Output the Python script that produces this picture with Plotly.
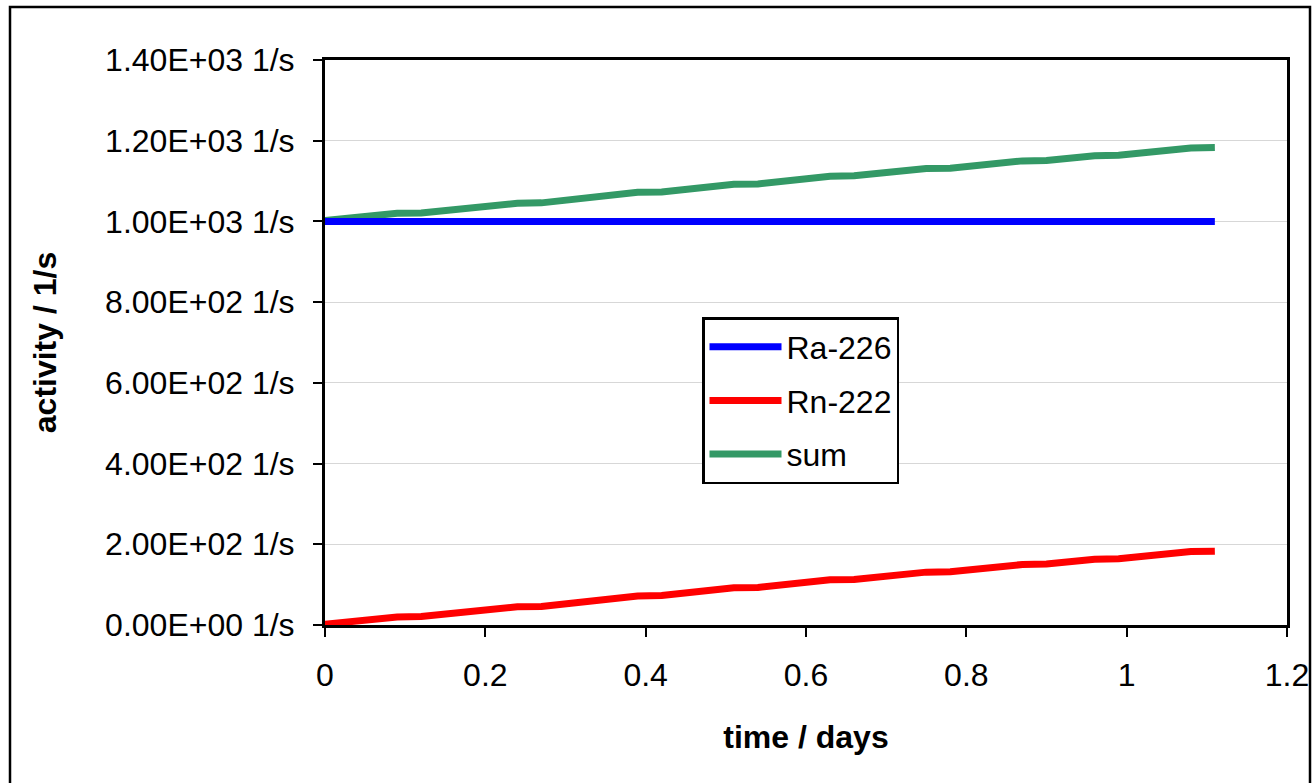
import plotly.graph_objects as go

# time in days
time_days = [0, 0.09, 0.12, 0.24, 0.27, 0.39, 0.42, 0.51, 0.54, 0.63, 0.66,
             0.75, 0.78, 0.87, 0.90, 0.96, 0.99, 1.08, 1.11]
ra_226 = [1000] * len(time_days)
rn_222 = [2, 20, 21, 45, 46, 72, 73, 92, 93, 112, 113, 131, 132, 150, 151,
          163, 164, 182, 183]
total = [1002, 1020, 1021, 1045, 1046, 1072, 1073, 1092, 1093, 1112, 1113,
         1131, 1132, 1150, 1151, 1163, 1164, 1182, 1183]

y_tickvals = [0, 200, 400, 600, 800, 1000, 1200, 1400]
y_ticktext = ['0.00E+00 1/s', '2.00E+02 1/s', '4.00E+02 1/s', '6.00E+02 1/s',
              '8.00E+02 1/s', '1.00E+03 1/s', '1.20E+03 1/s', '1.40E+03 1/s']
x_tickvals = [0, 0.2, 0.4, 0.6, 0.8, 1.0, 1.2]
x_ticktext = ['0', '0.2', '0.4', '0.6', '0.8', '1', '1.2']

FONT = 'Liberation Sans, Arial, sans-serif'
FS = 32
LINE_W = 7

# plot area in pixels (left, right, top, bottom)
PL, PR, PT, PB = 325, 1287, 60, 625
W, H = 1314, 783

fig = go.Figure()

# sum drawn first so Ra-226 sits on top of it at t=0
fig.add_trace(go.Scatter(x=time_days, y=total, name='sum', mode='lines',
                         line=dict(color='rgb(51,153,102)', width=LINE_W),
                         legendrank=3, legendgroup='c'))
fig.add_trace(go.Scatter(x=time_days, y=ra_226, name='Ra-226', mode='lines',
                         line=dict(color='rgb(0,0,255)', width=LINE_W),
                         legendrank=1, legendgroup='a'))
fig.add_trace(go.Scatter(x=time_days, y=rn_222, name='Rn-222', mode='lines',
                         line=dict(color='rgb(255,0,0)', width=LINE_W),
                         legendrank=2, legendgroup='b'))

fig.update_xaxes(
    range=[0, 1.2], tickvals=x_tickvals, ticktext=x_ticktext,
    showline=True, linecolor='black', linewidth=3, mirror=True,
    ticks='outside', ticklen=9, tickwidth=2, tickcolor='black',
    ticklabelstandoff=11,
    showgrid=False, zeroline=False,
    tickfont=dict(family=FONT, size=FS, color='black'),
    title=dict(text='<b>time / days</b>', standoff=34,
               font=dict(family=FONT, size=FS, color='black')),
    automargin=False)

fig.update_yaxes(
    range=[0, 1400], tickvals=y_tickvals, ticktext=y_ticktext,
    showline=True, linecolor='black', linewidth=3, mirror=True,
    ticks='outside', ticklen=9, tickwidth=2, tickcolor='black',
    ticklabelstandoff=12,
    showgrid=True, gridcolor='rgb(215,215,215)', gridwidth=1, zeroline=False,
    tickfont=dict(family=FONT, size=FS, color='black'),
    title=dict(text='<b>activity / 1/s</b>', standoff=39,
               font=dict(family=FONT, size=FS, color='black')),
    automargin=False)

# outer chart border
pw, ph = PR - PL, PB - PT
fig.add_shape(type='rect', xref='paper', yref='paper',
              x0=(10 - PL) / pw, x1=(1310 - PL) / pw,
              y0=(PB - 800) / ph, y1=(PB - 7) / ph,
              line=dict(color='black', width=2.5), layer='below')

fig.update_layout(
    width=W, height=H,
    margin=dict(l=PL, r=W - PR, t=PT, b=H - PB),
    paper_bgcolor='white', plot_bgcolor='white',
    font=dict(family=FONT, size=FS, color='black'),
    legend=dict(x=(702 - PL) / pw, y=(PB - 317) / ph,
                xanchor='left', yanchor='top',
                bgcolor='white', bordercolor='black', borderwidth=2.5,
                font=dict(family=FONT, size=FS, color='black'),
                tracegroupgap=9, itemwidth=72),
    showlegend=True)

fig.write_html('out.html', config={'displayModeBar': False},
               post_script="document.body.style.margin='0';"
                           "document.body.style.overflow='hidden';")
